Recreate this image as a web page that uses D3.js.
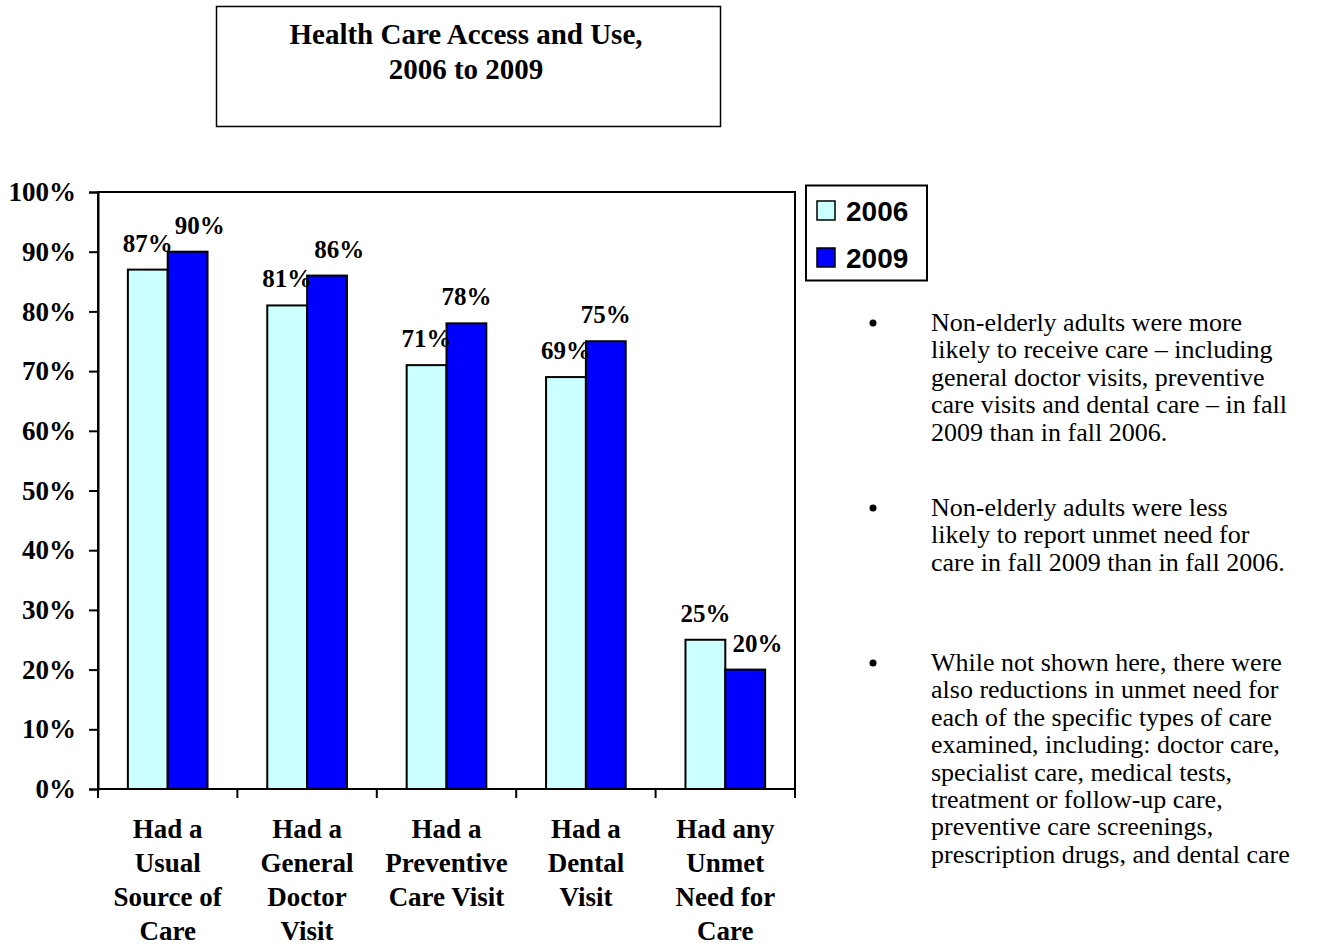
<!DOCTYPE html>
<html>
<head>
<meta charset="utf-8">
<script src="https://cdn.jsdelivr.net/npm/d3@7"></script>
<style>
  body { margin: 0; background: #fff; }
</style>
</head>
<body>
<div id="container"></div>
<script>
let w = 1317;
let h = 947;

// data
let categories = [
  ["Had a", "Usual", "Source of", "Care"],
  ["Had a", "General", "Doctor", "Visit"],
  ["Had a", "Preventive", "Care Visit"],
  ["Had a", "Dental", "Visit"],
  ["Had any", "Unmet", "Need for", "Care"]
];
let seriesNames = ["2006", "2009"];
let values2006 = [87, 81, 71, 69, 25];
let values2009 = [90, 86, 78, 75, 20];
let yTicks = [0, 10, 20, 30, 40, 50, 60, 70, 80, 90, 100];
let titleLines = ["Health Care Access and Use,", "2006 to 2009"];
let bullets = [
  ["Non-elderly adults were more", "likely to receive care \u2013 including", "general doctor visits, preventive", "care visits and dental care \u2013 in fall", "2009 than in fall 2006."],
  ["Non-elderly adults were less", "likely to report unmet need for", "care in fall 2009 than in fall 2006."],
  ["While not shown here, there were", "also reductions in unmet need for", "each of the specific types of care", "examined, including: doctor care,", "specialist care, medical tests,", "treatment or follow-up care,", "preventive care screenings,", "prescription drugs, and dental care"]
];
let colors = ["#ccffff", "#0000ff"];

let viz = d3.select("#container")
  .append("svg")
    .attr("width", w)
    .attr("height", h)
    .style("background-color", "white");

let serif = "'Liberation Serif', 'Times New Roman', serif";
let sans = "'Liberation Sans', Arial, sans-serif";

// title box
viz.append("rect")
  .attr("x", 216.5).attr("y", 6.5).attr("width", 504).attr("height", 120)
  .attr("fill", "white").attr("stroke", "black").attr("stroke-width", 1.5);
viz.selectAll(".title").data(titleLines).enter().append("text")
  .attr("class", "title")
  .attr("x", 466)
  .attr("y", function(d, i){ return 44 + i * 35; })
  .attr("text-anchor", "middle")
  .style("font-family", serif).style("font-weight", "bold").style("font-size", "29px")
  .text(function(d){ return d; });

// plot area
let plotLeft = 98, plotRight = 795, plotTop = 192, plotBottom = 789;

let xScale = d3.scaleBand().domain(d3.range(categories.length)).range([plotLeft, plotRight]);
let yScale = d3.scaleLinear().domain([0, 100]).range([plotBottom, plotTop]);
let xInner = d3.scaleBand().domain(seriesNames).range([0, xScale.bandwidth()]).paddingOuter(0.75).paddingInner(0);

viz.append("rect")
  .attr("x", plotLeft).attr("y", plotTop).attr("width", plotRight - plotLeft).attr("height", plotBottom - plotTop)
  .attr("fill", "none").attr("stroke", "black").attr("stroke-width", 2);

// bars
let rows = [];
categories.forEach(function(c, i){
  rows.push({cat: i, s: "2006", v: values2006[i], col: colors[0]});
  rows.push({cat: i, s: "2009", v: values2009[i], col: colors[1]});
});

viz.selectAll(".bar").data(rows).enter().append("rect")
  .attr("class", "bar")
  .attr("x", function(d){ return xScale(d.cat) + xInner(d.s); })
  .attr("y", function(d){ return yScale(d.v); })
  .attr("width", xInner.bandwidth())
  .attr("height", function(d){ return plotBottom - yScale(d.v); })
  .attr("fill", function(d){ return d.col; })
  .attr("stroke", "black").attr("stroke-width", 2);

let labels = viz.selectAll(".vlabel").data(rows).enter().append("text")
  .attr("class", "vlabel")
  .attr("x", function(d){ return xScale(d.cat) + xInner(d.s) + xInner.bandwidth() / 2; })
  .attr("y", function(d){ return yScale(d.v) - 18; })
  .attr("text-anchor", "middle")
  .style("font-family", serif).style("font-weight", "bold").style("font-size", "25px")
  .text(function(d){ return d.v + "%"; });

// nudge the 2009 label right when it would run into the 2006 label
let labelNodes = labels.nodes();
for (let i = 0; i < labelNodes.length; i += 2) {
  let a = labelNodes[i], b = labelNodes[i + 1];
  let ay = +a.getAttribute("y"), by = +b.getAttribute("y");
  if (Math.abs(ay - by) < 32) {
    let aRight = +a.getAttribute("x") + a.getComputedTextLength() / 2;
    let bLeft = +b.getAttribute("x") - b.getComputedTextLength() / 2;
    if (bLeft < aRight + 2) {
      b.setAttribute("x", +b.getAttribute("x") + (aRight + 2 - bLeft));
    }
  }
}

// y axis
let yAxis = d3.axisLeft(yScale).tickValues(yTicks).tickSize(9).tickPadding(13)
  .tickFormat(function(d){ return d + "%"; });
let yAxisGroup = viz.append("g").attr("class", "yaxis")
  .attr("transform", "translate(" + plotLeft + ", 0)")
  .call(yAxis);
yAxisGroup.select(".domain").attr("stroke-width", 2);
yAxisGroup.selectAll(".tick line").attr("stroke-width", 2);
yAxisGroup.selectAll("text")
  .style("font-family", serif).style("font-weight", "bold").style("font-size", "27px")
  .attr("fill", "black");

// x axis ticks at the category boundaries
let bounds = d3.range(categories.length + 1).map(function(i){ return plotLeft + i * xScale.bandwidth(); });
viz.append("line").attr("x1", plotLeft).attr("x2", plotRight).attr("y1", plotBottom).attr("y2", plotBottom)
  .attr("stroke", "black").attr("stroke-width", 2);
viz.selectAll(".xtick").data(bounds).enter().append("line")
  .attr("class", "xtick")
  .attr("x1", function(d){ return d; }).attr("x2", function(d){ return d; })
  .attr("y1", plotBottom).attr("y2", plotBottom + 9)
  .attr("stroke", "black").attr("stroke-width", 2);

let catLabels = viz.selectAll(".cat").data(categories).enter().append("text")
  .attr("class", "cat")
  .attr("text-anchor", "middle")
  .style("font-family", serif).style("font-weight", "bold").style("font-size", "27px");
catLabels.selectAll("tspan").data(function(d, i){ return d.map(function(t){ return {t: t, i: i}; }); })
  .enter().append("tspan")
  .attr("x", function(d){ return xScale(d.i) + xScale.bandwidth() / 2; })
  .attr("y", function(d, j){ return 838 + j * 34; })
  .text(function(d){ return d.t; });

// legend
viz.append("rect")
  .attr("x", 806).attr("y", 185.5).attr("width", 121).attr("height", 95)
  .attr("fill", "white").attr("stroke", "black").attr("stroke-width", 2);
let leg = viz.selectAll(".leg").data(seriesNames).enter().append("g")
  .attr("class", "leg")
  .attr("transform", function(d, i){ return "translate(817," + (201 + i * 47) + ")"; });
leg.append("rect").attr("width", 18).attr("height", 19)
  .attr("fill", function(d, i){ return colors[i]; })
  .attr("stroke", "black").attr("stroke-width", 1.5);
leg.append("text").attr("x", 29).attr("y", 20)
  .style("font-family", sans).style("font-weight", "bold").style("font-size", "28px")
  .text(function(d){ return d; });

// bullet notes
let paraTops = [331, 516, 671];
bullets.forEach(function(lines, p){
  viz.append("circle").attr("cx", 873).attr("cy", paraTops[p] - 8).attr("r", 3.5).attr("fill", "black");
  viz.selectAll(".b" + p).data(lines).enter().append("text")
    .attr("class", "b" + p)
    .attr("x", 931)
    .attr("y", function(d, i){ return paraTops[p] + i * 27.4; })
    .style("font-family", serif).style("font-size", "26px")
    .text(function(d){ return d; });
});
</script>
</body>
</html>
